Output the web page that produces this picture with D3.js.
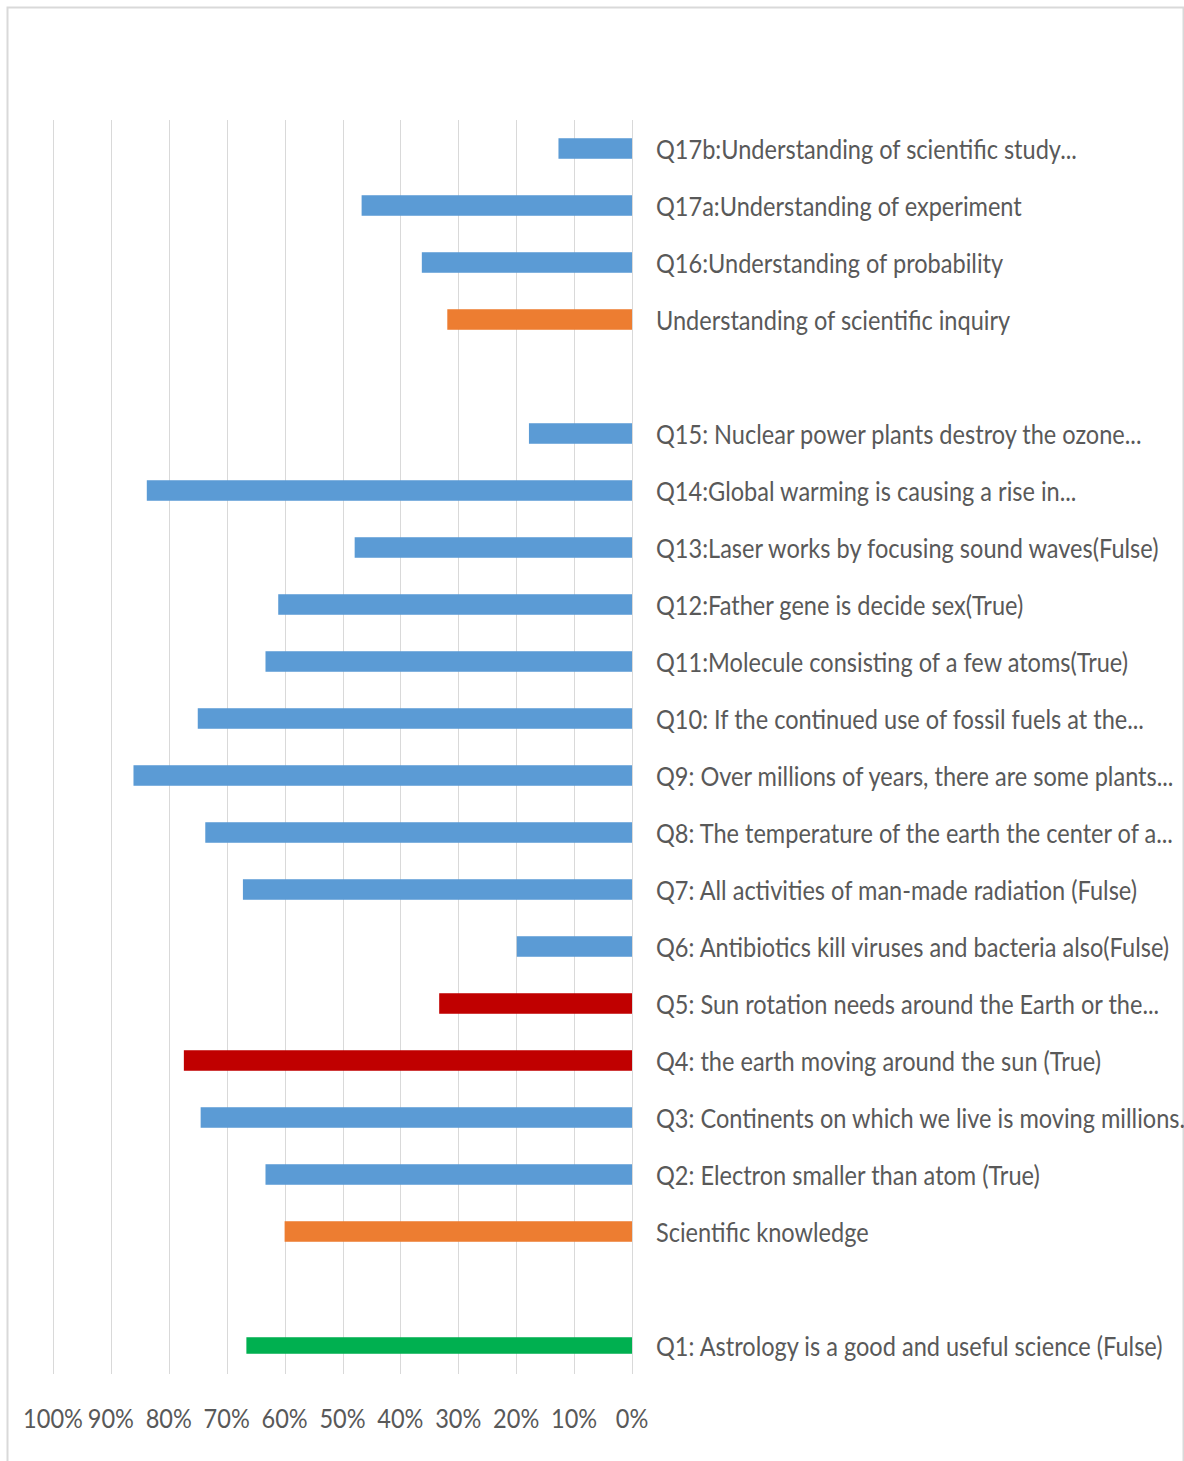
<!DOCTYPE html>
<html>
<head>
<meta charset="utf-8">
<script src="https://cdn.jsdelivr.net/npm/d3@7"></script>
<style>
  html, body { margin: 0; padding: 0; background: #ffffff; }
  svg { display: block; }
</style>
</head>
<body>
<svg id="chart" width="1184" height="1461"></svg>
<script>
// ---- data (top to bottom) ----
const categories = [
  "Q17b:Understanding of scientific study...",
  "Q17a:Understanding of experiment",
  "Q16:Understanding of probability",
  "Understanding of scientific inquiry",
  "",
  "Q15: Nuclear power plants destroy the ozone...",
  "Q14:Global warming is causing a rise in...",
  "Q13:Laser works by focusing sound waves(Fulse)",
  "Q12:Father gene is decide sex(True)",
  "Q11:Molecule consisting of a few atoms(True)",
  "Q10: If the continued use of fossil fuels at the...",
  "Q9: Over millions of years, there are some plants...",
  "Q8: The temperature of the earth the center of a...",
  "Q7: All activities of man-made radiation (Fulse)",
  "Q6: Antibiotics kill viruses and bacteria also(Fulse)",
  "Q5: Sun rotation needs around the Earth or the...",
  "Q4: the earth moving around the sun (True)",
  "Q3: Continents on which we live is moving millions...",
  "Q2: Electron smaller than atom (True)",
  "Scientific knowledge",
  "",
  "Q1: Astrology is a good and useful science (Fulse)"
];
const values = [
  0.127, 0.467, 0.363, 0.319, null,
  0.178, 0.838, 0.479, 0.611, 0.633, 0.750, 0.861,
  0.737, 0.672, 0.199, 0.333, 0.774, 0.745, 0.633, 0.600, null,
  0.666
];
const groups = [
  "item", "item", "item", "summary", "blank",
  "item", "item", "item", "item", "item", "item", "item",
  "item", "item", "item", "highlight", "highlight", "item", "item", "summary", "blank",
  "reference"
];
const tickValues = [1, 0.9, 0.8, 0.7, 0.6, 0.5, 0.4, 0.3, 0.2, 0.1, 0];

// ---- styles ----
const colorOf = { item: "#5B9BD5", summary: "#ED7D31", highlight: "#C00000", reference: "#00B050" };
const textColor = "#595959";
const gridColor = "#d9d9d9";
const fontFamily = "Lato, 'Open Sans', sans-serif";
const fontSize = 27;

const svg = d3.select("#chart");

// outer frame
svg.append("rect")
  .attr("x", 7.5).attr("y", 7.5)
  .attr("width", 1176).attr("height", 1460)
  .attr("fill", "none").attr("stroke", gridColor).attr("stroke-width", 2);

const rows = categories.map((c, i) => ({ key: "r" + i, label: c, value: values[i], group: groups[i] }));

const x = d3.scaleLinear().domain([0, 1]).range([632, 53]);
const y = d3.scaleBand().domain(rows.map(d => d.key)).range([120, 1374])
  .paddingInner(0.64).paddingOuter(0.32);

// gridlines
svg.append("g").selectAll("line").data(tickValues).join("line")
  .attr("x1", d => Math.round(x(d)) + 0.5).attr("x2", d => Math.round(x(d)) + 0.5)
  .attr("y1", 120).attr("y2", 1374)
  .attr("stroke", gridColor).attr("stroke-width", 1);

// bars
const bw = y.bandwidth();
svg.append("g").selectAll("rect").data(rows.filter(d => d.value != null)).join("rect")
  .attr("x", d => x(d.value))
  .attr("width", d => x(0) - x(d.value))
  .attr("y", d => d.group === "reference" ? y(d.key) + 2 : y(d.key))
  .attr("height", d => d.group === "reference" ? bw - 4 : bw)
  .attr("fill", d => colorOf[d.group]);

// measure condensing factor so labels match the narrow look of the original
const probe = svg.append("text").attr("font-family", fontFamily).attr("font-size", fontSize)
  .text(categories[0]);
const natural = probe.node().getComputedTextLength();
probe.remove();
const sx = 421 / natural;

// category labels
svg.append("g").selectAll("text").data(rows.filter(d => d.label)).join("text")
  .attr("transform", d => `translate(656,${y(d.key) + bw / 2 + 10}) scale(${sx},1)`)
  .attr("font-family", fontFamily).attr("font-size", fontSize)
  .attr("fill", textColor)
  .text(d => d.label);

// x axis tick labels
const fmt = d3.format(".0%");
svg.append("g").selectAll("text").data(tickValues).join("text")
  .attr("transform", d => `translate(${x(d)},1428) scale(${sx},1)`)
  .attr("text-anchor", "middle")
  .attr("font-family", fontFamily).attr("font-size", fontSize)
  .attr("fill", textColor)
  .text(d => fmt(d));
</script>
</body>
</html>
